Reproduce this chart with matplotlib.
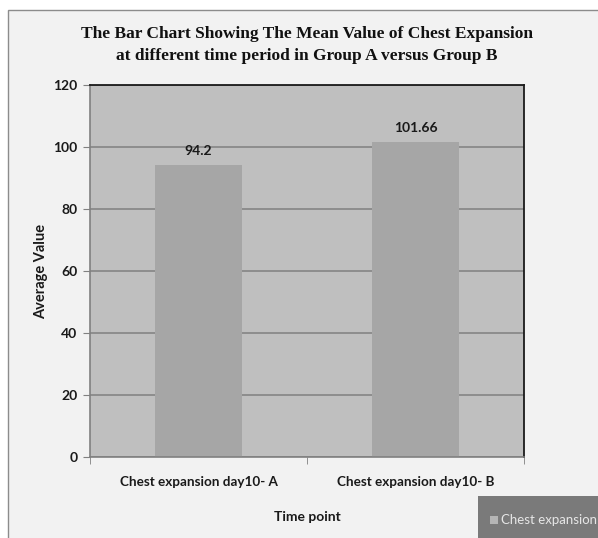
import matplotlib
matplotlib.use('Agg')
import matplotlib.pyplot as plt
from matplotlib.patches import Rectangle

categories = ['Chest expansion day10- A', 'Chest expansion day10- B']
values = [94.2, 101.66]
value_labels = ['94.2', '101.66']
yticks = [0, 20, 40, 60, 80, 100, 120]
series_name = 'Chest expansion'

W, H = 598, 538
fig = plt.figure(figsize=(W / 100, H / 100), dpi=100)
fig.patch.set_facecolor('white')

# chart frame
frame = Rectangle((8 / W, -0.01), 1, 1 - 10 / H + 0.01, transform=fig.transFigure,
                  facecolor='#f2f2f2', edgecolor='#8c8c8c', linewidth=1.0, zorder=-5)
fig.patches.append(frame)

ax = fig.add_axes([90 / W, 81 / H, 434 / W, 372 / H])
ax.set_facecolor('#bfbfbf')
x = list(range(len(categories)))
ax.bar(x, values, width=0.4, color='#a6a6a6', zorder=2)
ax.set_xlim(-0.5, len(categories) - 0.5)
ax.set_ylim(0, 120)
ax.set_yticks(yticks)
ax.grid(axis='y', color='#858585', linewidth=1.2, zorder=1)
ax.set_axisbelow(True)

tfont = dict(family='Lato', weight='bold', color='#1a1a1a')
ax.set_yticklabels([str(t) for t in yticks], fontsize=10, **tfont)
ax.set_xticks(x)
ax.set_xticklabels(categories, fontsize=9.7, **tfont)
ax.set_xticks([-0.5, 0.5, 1.5], minor=True)
ax.tick_params(axis='x', which='major', length=0, pad=14)
ax.tick_params(axis='x', which='minor', length=5, color='#808080', direction='out')
ax.tick_params(axis='y', length=5, color='#808080', pad=4)

for side in ['left', 'bottom']:
    ax.spines[side].set_color('#808080')
    ax.spines[side].set_linewidth(1.2)
for side in ['top', 'right']:
    ax.spines[side].set_color('#1a1a1a')
    ax.spines[side].set_linewidth(1.3)

for xi, v, lab in zip(x, values, value_labels):
    ax.annotate(lab, (xi, v), xytext=(0, 6), textcoords='offset points',
                ha='center', va='bottom', fontsize=10, **tfont)

ax.set_ylabel('Average Value', fontsize=10.5, labelpad=4, **tfont)
ax.set_xlabel('Time point', fontsize=10, labelpad=16, **tfont)

fig.text(307 / W, 1 - 45 / H,
         'The Bar Chart Showing The Mean Value of Chest Expansion\n'
         'at different time period in Group A versus Group B',
         ha='center', va='center', fontsize=12.5, family='Liberation Serif',
         weight='bold', linespacing=1.5, color='#111111')

# legend box
leg = Rectangle((478 / W, 0), 1 - 478 / W, 42 / H, transform=fig.transFigure,
                facecolor='#7a7a7a', edgecolor='none', zorder=3)
fig.patches.append(leg)
mark = Rectangle((490 / W, 14 / H), 8 / W, 8 / H, transform=fig.transFigure,
                 facecolor='#b5b5b5', edgecolor='none', zorder=4)
fig.patches.append(mark)
fig.text(501 / W, 18 / H, series_name, ha='left', va='center', fontsize=9.5,
         family='Lato', color='#e6e6e6', zorder=5)

fig.savefig('out.png', dpi=100)
